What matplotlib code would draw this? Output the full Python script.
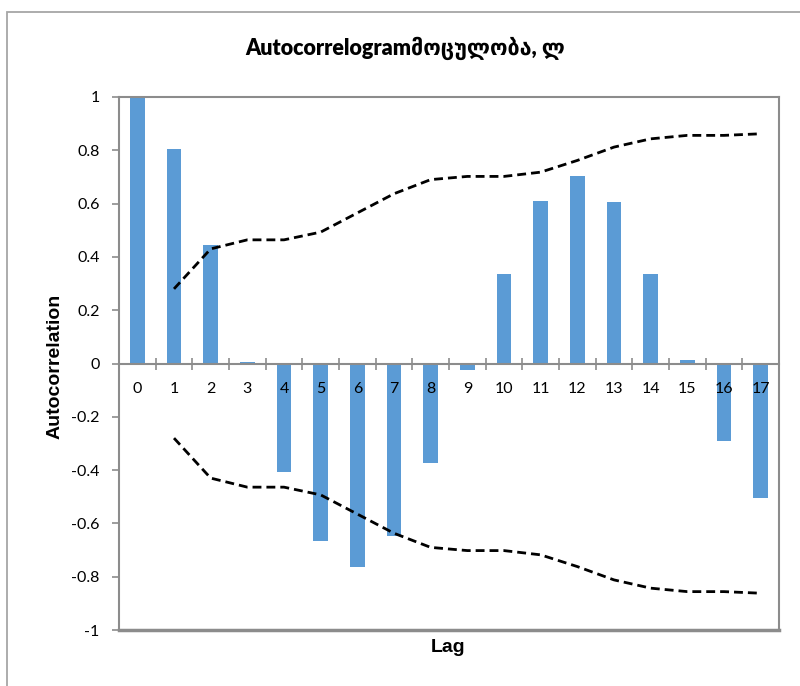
import matplotlib
matplotlib.use("Agg")
import matplotlib.pyplot as plt
from matplotlib.patches import Rectangle
from matplotlib.ticker import FixedLocator, FuncFormatter
import numpy as np

lags = list(range(18))
acf = [1.0, 0.806, 0.445, 0.005, -0.406, -0.667, -0.765, -0.647, -0.375,
       -0.023, 0.337, 0.609, 0.704, 0.605, 0.334, 0.013, -0.289, -0.503]
band_lags = list(range(1, 18))
upper = [0.280, 0.430, 0.464, 0.464, 0.493, 0.565, 0.637, 0.690, 0.702,
         0.702, 0.718, 0.762, 0.812, 0.843, 0.856, 0.856, 0.862]
lower = [-v for v in upper]
yticks = [1, 0.8, 0.6, 0.4, 0.2, 0, -0.2, -0.4, -0.6, -0.8, -1]

title = "Autocorrelogramმოცულობა, ლ"

GRAY = "#8c8c8c"
BAR = "#5b9bd5"

fig = plt.figure(figsize=(8, 6.86), dpi=100)
ax = fig.add_axes([119/800, 1-630/686, 660/800, 533/686])
ax.set_axisbelow(False)

ax.bar(lags, acf, width=0.4, color=BAR, zorder=2)
ax.plot(band_lags, upper, color="black", lw=2.0, dashes=(3.2, 1.8), zorder=3)
ax.plot(band_lags, lower, color="black", lw=2.0, dashes=(3.2, 1.8), zorder=3)

ax.set_xlim(-0.5, 17.5)
ax.set_ylim(-1, 1)

for s in ["left", "right", "top", "bottom"]:
    ax.spines[s].set_color(GRAY)
    ax.spines[s].set_linewidth(1.5)
ax.spines["bottom"].set_position(("data", 0))
ax.axhline(-1, color=GRAY, lw=2.5, clip_on=False, zorder=1)

# x axis: category boundary ticks crossing the zero line
ax.xaxis.set_major_locator(FixedLocator(lags))
ax.xaxis.set_minor_locator(FixedLocator(np.arange(-0.5, 18, 1.0)))
ax.set_xticklabels([str(l) for l in lags])
ax.tick_params(axis="x", which="major", length=0, pad=13, labelsize=11.5)
ax.tick_params(axis="x", which="minor", length=9, direction="inout",
               color=GRAY, width=1.2)

ax.yaxis.set_major_locator(FixedLocator(yticks))
ax.yaxis.set_major_formatter(FuncFormatter(lambda v, p: "%g" % round(v, 1) if abs(v) > 1e-9 else "0"))
ax.tick_params(axis="y", which="major", length=5, direction="out",
               color=GRAY, width=1.2, pad=9, labelsize=11.5)
for lab in ax.get_xticklabels() + ax.get_yticklabels():
    lab.set_family(["Lato", "DejaVu Sans"])

fig.text(55/800, 1-366/686, "Autocorrelation", rotation=90, ha="center", va="center",
         fontsize=14, fontweight="bold", family=["Liberation Sans", "DejaVu Sans"])
fig.text(448/800, 1-648/686, "Lag", ha="center", va="center",
         fontsize=14, fontweight="bold", family=["Liberation Sans", "DejaVu Sans"])
fig.text(405/800, 1-48/686, title, ha="center", va="center",
         fontsize=15.5, fontweight="heavy", family=["Lato", "DejaVu Sans"])

fig.patches.append(Rectangle((6.5/800, -0.1), 1.2, 1-12.5/686+0.1,
                             transform=fig.transFigure, fill=False,
                             edgecolor="#a6a6a6", lw=1.3))

fig.savefig("out.png", dpi=100)
